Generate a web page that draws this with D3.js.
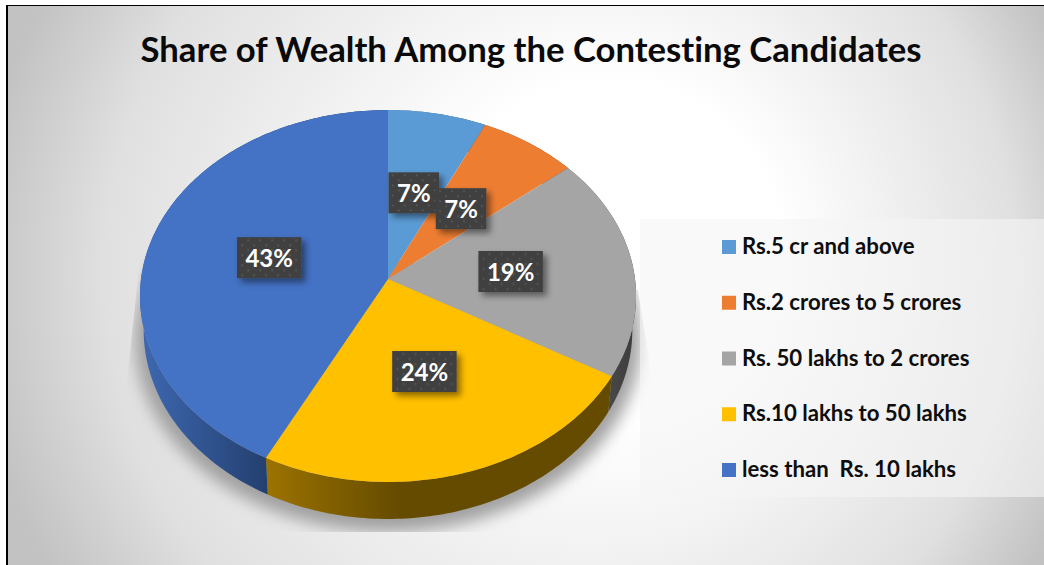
<!DOCTYPE html>
<html><head><meta charset="utf-8">
<script src="https://cdn.jsdelivr.net/npm/d3@7/dist/d3.min.js"></script>
<style>html,body{margin:0;padding:0;background:#fff;overflow:hidden}svg{display:block}text{font-family:Lato,sans-serif;font-weight:700;font-variant-ligatures:none}</style>
</head><body><svg id="c" width="1044" height="565"></svg>
<script>
const titleText = "Share of Wealth Among the Contesting Candidates";
const categories = ["Rs.5 cr and above","Rs.2 crores to 5 crores","Rs. 50 lakhs to 2 crores","Rs.10 lakhs to 50 lakhs","less than  Rs. 10 lakhs"];
const values = [7.0,7.0,19.4,24.1,42.5];
const colors = ["#5b9bd5","#ed7d31","#a5a5a5","#ffc000","#4472c4"];
const wallFrom = ["#3f76a8","#a85a22","#5a5a5a","#9c7300","#3d66ae"];
const wallTo   = ["#2a4f70","#6e3a16","#3c3c3c","#654b00","#233f6e"];

const W=1044,H=565;
const cx=388,cy=279,R=247,Hh=184.4,k=0.0914;
const svg=d3.select("#c");
const defs=svg.append("defs");

// background
const bg=defs.append("radialGradient").attr("id","bg").attr("gradientUnits","userSpaceOnUse")
  .attr("cx",540).attr("cy",280).attr("r",570).attr("fx",640).attr("fy",240);
[[0,"#ffffff"],[0.3,"#ffffff"],[0.8,"#e0e0e0"],[1,"#c2c2c2"]].forEach(s=>bg.append("stop").attr("offset",s[0]).attr("stop-color",s[1]));
svg.append("rect").attr("width",W).attr("height",H).attr("fill","#fff");
svg.append("rect").attr("x",7).attr("y",6).attr("width",W-7).attr("height",H-6).attr("fill","url(#bg)");
svg.append("line").attr("x1",7).attr("x2",7).attr("y1",5).attr("y2",H).attr("stroke","#000").attr("stroke-width",2);
svg.append("line").attr("x1",6).attr("x2",W).attr("y1",5.5).attr("y2",5.5).attr("stroke","#000").attr("stroke-width",1);

// perspective projection of the disc
const proj=(a,r=1)=>{const u=r*Math.sin(a),v=r*Math.cos(a),d=1+k*v;return [cx+R*u/d,cy-Hh*v/d];};
const low=p=>[cx+(p[0]-cx)*0.985,p[1]+34+0.015*(p[1]-cy)];
const arcPts=(a0,a1)=>{const n=Math.max(2,Math.ceil((a1-a0)/(Math.PI/180)));return d3.range(n+1).map(i=>proj(a0+(a1-a0)*i/n));};
const line=d3.line().curve(d3.curveLinear);
const arcs=d3.pie().sort(null).value(d=>d)(values);

// shadow
defs.append("filter").attr("id","blur").attr("x","-20%").attr("y","-20%").attr("width","140%").attr("height","140%")
  .append("feGaussianBlur").attr("stdDeviation",8);
defs.append("clipPath").attr("id","shClip").append("polygon")
  .attr("points","143,230 125,400 125,532 653,532 653,385 638,290");
const rim=arcPts(0,2*Math.PI).map(low).map(p=>[cx+(p[0]-cx)*1.035,p[1]+8+(p[1]-cy)*0.02]);
svg.append("g").attr("clip-path","url(#shClip)").append("path").attr("d",line(rim)+"Z")
  .attr("fill","#a0a0a0").attr("filter","url(#blur)");

// walls
arcs.forEach((s,i)=>{
  const g=defs.append("linearGradient").attr("id","wall"+i).attr("gradientUnits","userSpaceOnUse");
  const top=arcPts(s.startAngle,s.endAngle);
  const xs=d3.extent(top,p=>p[0]);
  g.attr("x1",i==3?266:xs[0]).attr("x2",i==3?400:xs[1]).attr("y1",0).attr("y2",0);
  g.append("stop").attr("offset",0).attr("stop-color",wallFrom[i]);
  g.append("stop").attr("offset",1).attr("stop-color",wallTo[i]);
  if(i==4) g.attr("x1",147).attr("x2",269);
  svg.append("path").attr("d",line(top.concat(top.slice().reverse().map(low)))+"Z").attr("fill","url(#wall"+i+")");
});

// top faces
arcs.forEach((s,i)=>{
  const pts=[[cx,cy]].concat(arcPts(s.startAngle,s.endAngle));
  svg.append("path").attr("d",line(pts)+"Z").attr("fill",colors[i]);
});

// label boxes
const pat=defs.append("pattern").attr("id","dots").attr("patternUnits","userSpaceOnUse").attr("width",12).attr("height",10);
pat.append("rect").attr("width",12).attr("height",10).attr("fill","#404040");
[[3,2.5],[9,7.5]].forEach(p=>pat.append("circle").attr("cx",p[0]).attr("cy",p[1]).attr("r",1.1).attr("fill","#585858"));
const ds=defs.append("filter").attr("id","ds").attr("x","-30%").attr("y","-30%").attr("width","170%").attr("height","170%");
ds.append("feDropShadow").attr("dx",4).attr("dy",4).attr("stdDeviation",3).attr("flood-color","#000").attr("flood-opacity",0.45);
const fmt=d=>Math.round(d)+"%";
arcs.forEach((s,i)=>{
  const p=proj((s.startAngle+s.endAngle)/2,0.5);
  const g=svg.append("g").attr("transform",`translate(${p[0]},${p[1]})`);
  const r=g.append("rect").attr("fill","url(#dots)").attr("filter","url(#ds)");
  const t=g.append("text").attr("text-anchor","middle").attr("y",9).attr("font-size",24).attr("fill","#fff").text(fmt(values[i]));
  const w=t.node().getComputedTextLength()+17;
  r.attr("x",-w/2).attr("y",-20.5).attr("width",w).attr("height",41);
});

// legend
svg.append("rect").attr("x",640).attr("y",219).attr("width",W-640).attr("height",278).attr("fill","#f5f5f5").attr("fill-opacity",0.6);
const ly=d3.scalePoint().domain(categories).range([247,470]);
categories.forEach((c,i)=>{
  svg.append("rect").attr("x",722).attr("y",ly(c)-7).attr("width",14).attr("height",14).attr("fill",colors[i]);
  svg.append("text").attr("x",742).attr("y",ly(c)+7).attr("font-size",22.2).attr("fill","#0d0d0d").attr("xml:space","preserve").style("white-space","pre").text(c);
});

// title
svg.append("text").attr("x",531).attr("y",62).attr("text-anchor","middle").attr("font-size",34.7).attr("fill","#0a0a0a").text(titleText);
</script></body></html>
